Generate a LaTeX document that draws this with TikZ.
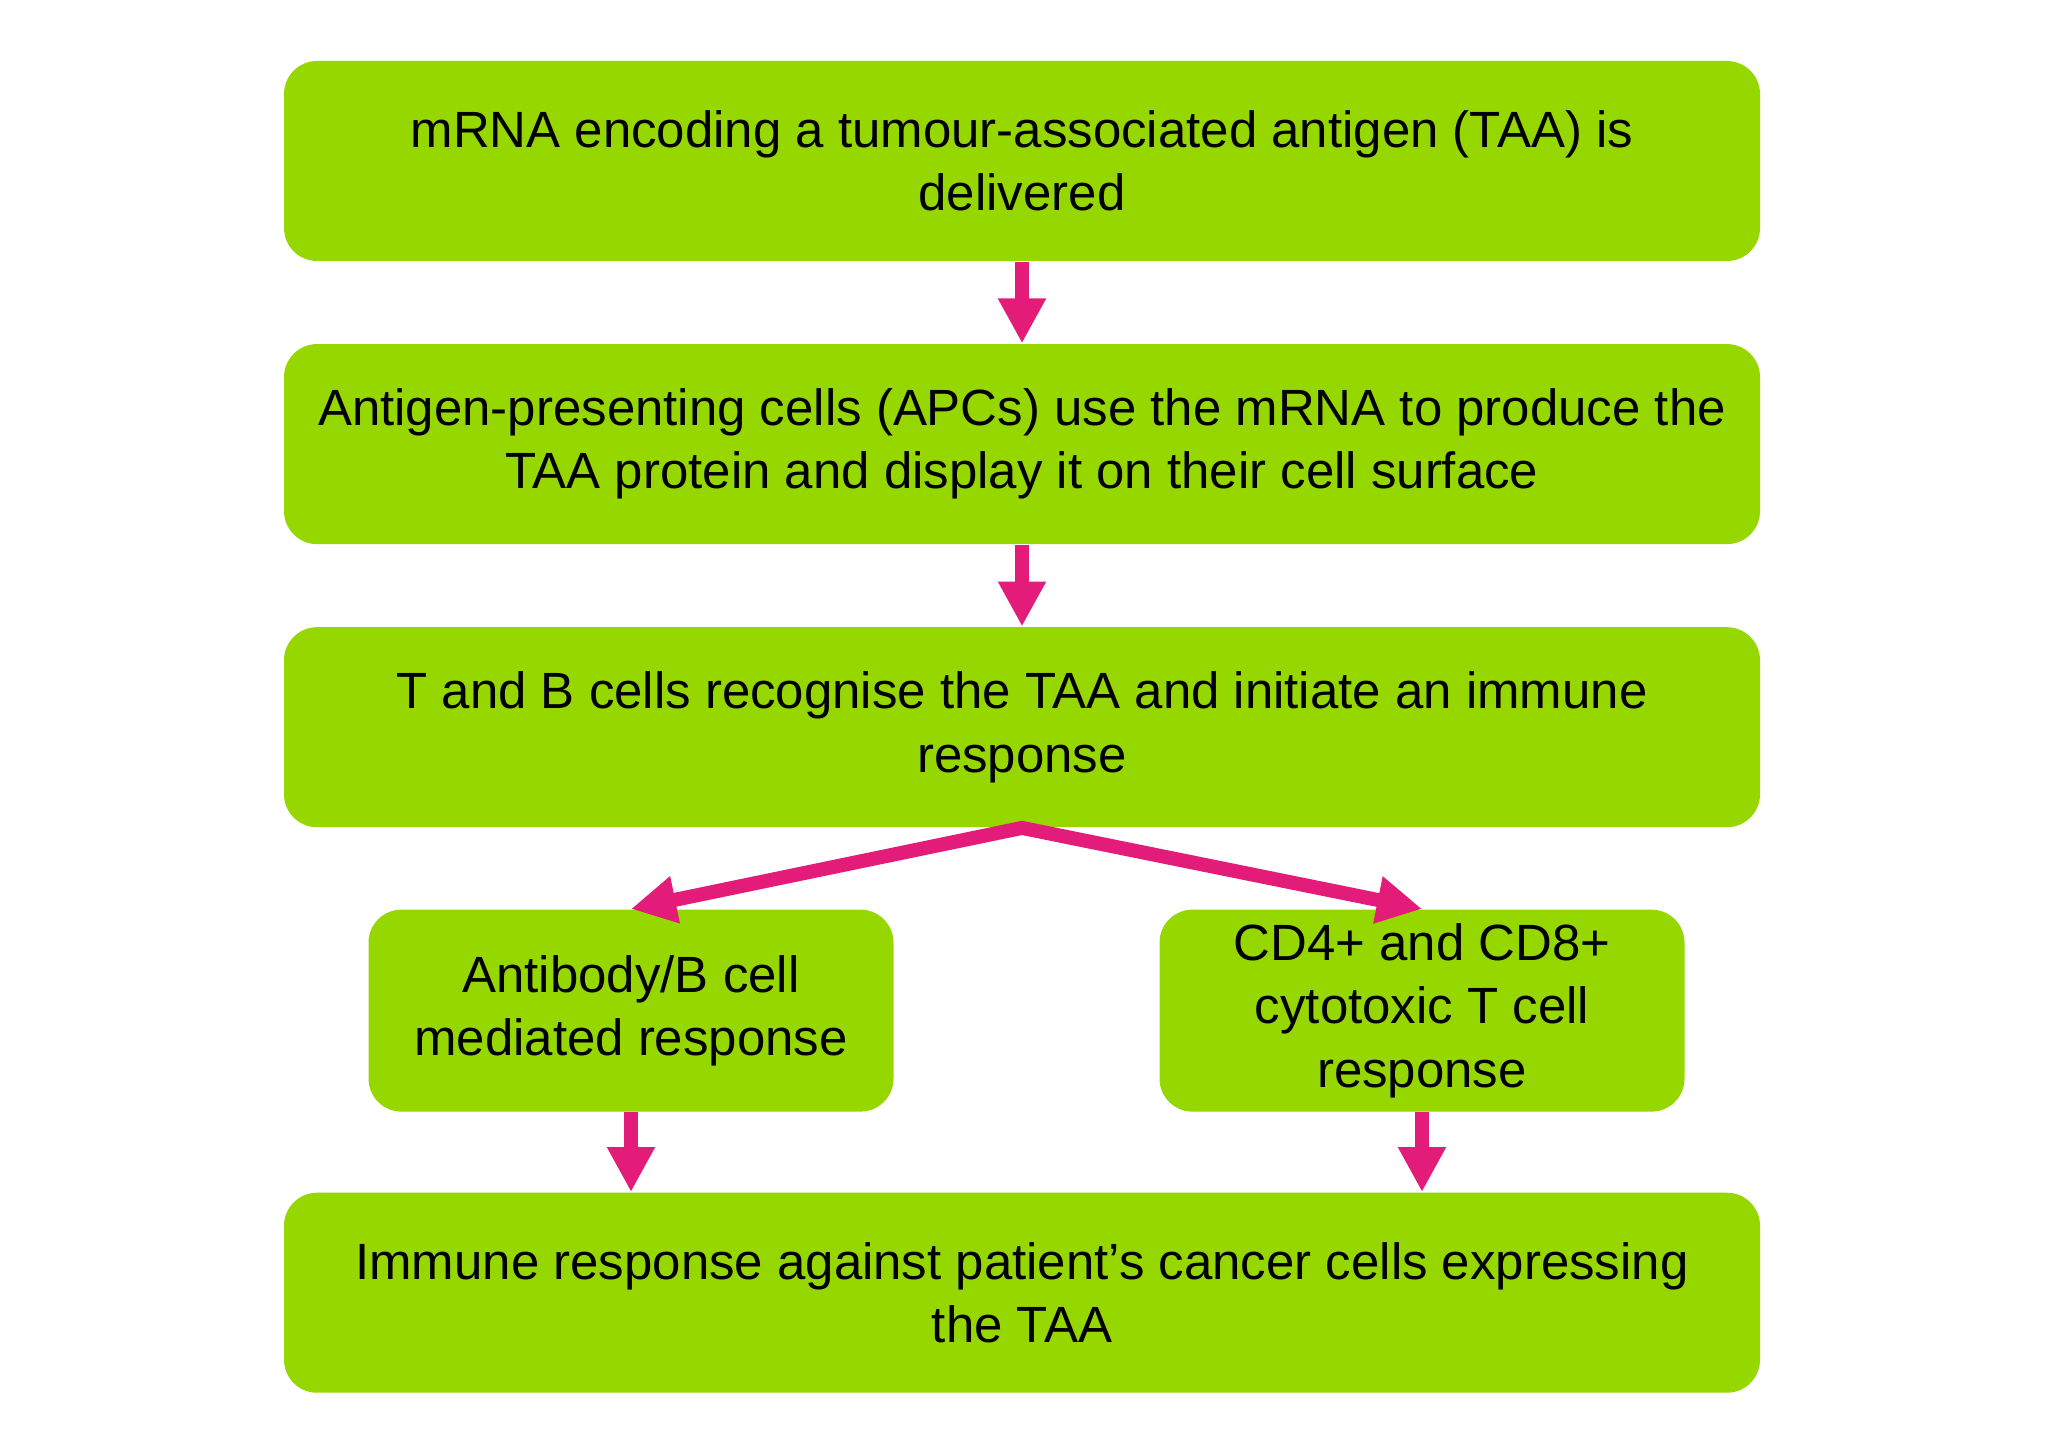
\documentclass[tikz,border=0pt]{standalone}
\usepackage{fontspec}
\setmainfont{Liberation Sans}
\usetikzlibrary{positioning,arrows.meta}
\definecolor{boxgreen}{HTML}{97D700}
\definecolor{flowpink}{HTML}{E31C79}

\begin{document}
\begin{tikzpicture}[
    every node/.style={inner sep=2pt, font=\fontsize{14.5pt}{18pt}\selectfont},
    stepbox/.style={fill=boxgreen, rounded corners=0.33cm, minimum width=14.76cm,
      minimum height=2cm, align=center},
    branchbox/.style={stepbox, minimum width=5.25cm, minimum height=2.02cm},
    flow/.style={draw=flowpink, line width=0.14cm,
      -{Triangle[width=0.45cm, length=0.45cm]}}]
  \useasboundingbox (0,0) rectangle (20.5,-14.56);

  % main chain
  \node[stepbox] (deliver) at (10.22,-1.61)
    {mRNA encoding a tumour-associated antigen (TAA) is\\delivered};
  \node[stepbox, below=0.817cm of deliver] (present)
    {Antigen-presenting cells (APCs) use the mRNA to produce the\\TAA protein and display it on their cell surface};
  \node[stepbox, below=0.817cm of present] (recognise)
    {T and B cells recognise the TAA and initiate an immune\\response};

  % two branches
  \node[branchbox, below=0.81cm of recognise, xshift=-3.91cm] (antibody)
    {Antibody/B cell\\mediated response};
  \node[branchbox, below=0.81cm of recognise, xshift=4.00cm] (cytotoxic)
    {CD4+ and CD8+\\cytotoxic T cell\\response};

  \node[stepbox, below=0.797cm of recognise.south |- antibody.south, anchor=north] (outcome)
    {Immune response against patient’s cancer cells expressing\\the TAA};

  \draw[flow] (deliver) -- (present);
  \draw[flow] (present) -- (recognise);
  \draw[flow, {Triangle[width=0.45cm, length=0.45cm]}-{Triangle[width=0.45cm, length=0.45cm]},
    line join=miter] (antibody.north) -- (recognise.south) -- (cytotoxic.north);
  \draw[flow] (antibody) -- (antibody |- outcome.north);
  \draw[flow] (cytotoxic) -- (cytotoxic |- outcome.north);
\end{tikzpicture}
\end{document}
